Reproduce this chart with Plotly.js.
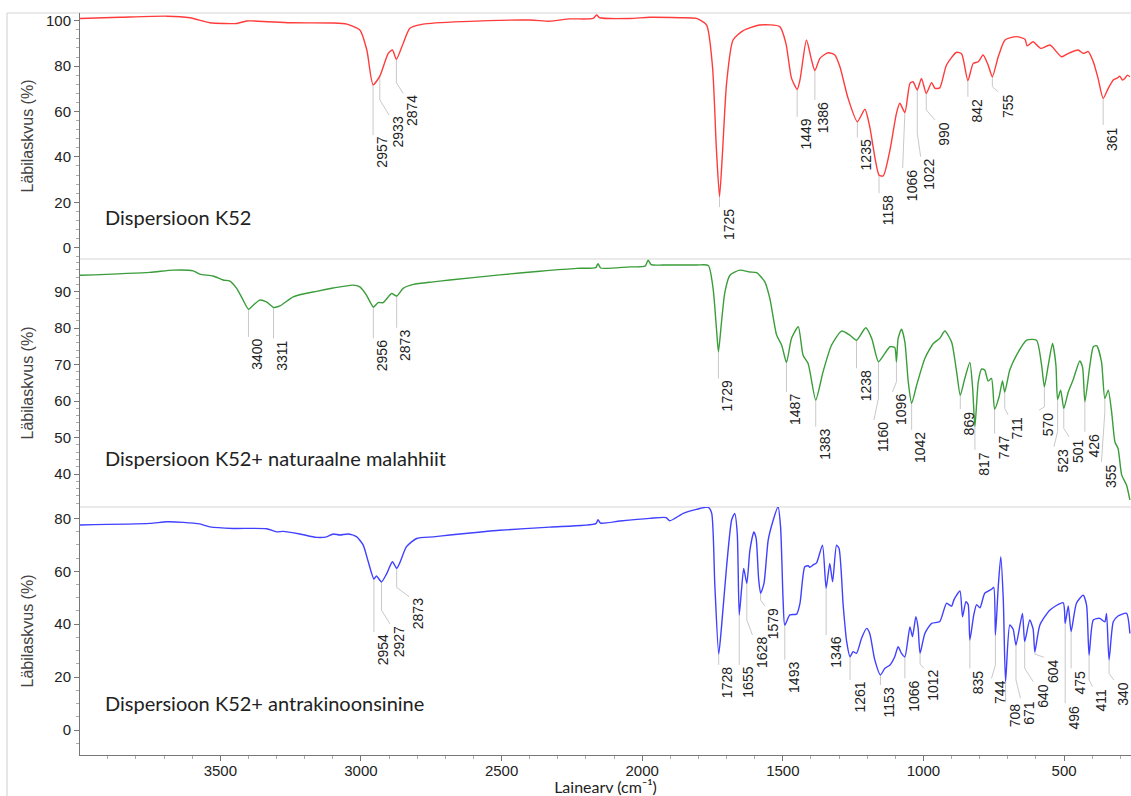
<!DOCTYPE html>
<html><head><meta charset="utf-8">
<script src="https://cdn.plot.ly/plotly-3.0.1.min.js"></script>
<style>html,body{margin:0;padding:0;background:#fff}#chart{width:1131px;height:796px}</style>
</head><body><div id="chart"></div>
<script>
// ---------- DATA ----------
const panelNames = ['Dispersioon K52', 'Dispersioon K52+ naturaalne malahhiit', 'Dispersioon K52+ antrakinoonsinine'];
const xTitle = 'Lainearv (cm\u207B\u00B9)';
const yTitle = 'Läbilaskvus (%)';

const wnTop = [4000,3857,3690,3608,3537,3441,3406,3253,3100,3050,
 3004,2979,2957,2933,2903,2888,2874,2850,2826,2779,
 2638,2399,2328,2257,2175,2162,2151,2044,1973,1866,
 1807,1771,1750,1736,1725,1714,1700,1677,1641,1582,
 1511,1489,1469,1449,1439,1416,1398,1386,1368,1339,
 1315,1297,1268,1235,1208,1191,1158,1143,1119,1096,
 1084,1066,1048,1037,1022,1007,990,971,959,942,
 918,882,864,842,823,805,788,770,755,734,
 710,669,639,631,610,583,550,509,485,450,
 432,414,396,379,361,343,325,310,302,292,
 284,275,266];
const tTop = [101.0,101.5,102.0,101.3,99.1,98.8,99.9,99.1,99.0,98.5,
 95.9,87.0,71.8,75.6,85.6,87.1,83.0,90.0,96.7,98.5,
 99.6,100.3,99.8,100.8,101.0,102.5,101.3,101.0,101.5,101.3,
 101.0,98.1,79.7,43.0,22.5,43.0,72.4,91.5,95.6,98.1,
 97.4,90.0,74.6,69.8,73.9,91.5,82.7,78.0,83.4,85.9,
 84.9,79.7,65.8,55.5,61.0,53.3,32.0,31.6,43.0,59.2,
 63.6,59.5,72.4,73.1,69.5,74.6,68.0,72.7,70.2,70.4,
 80.5,86.1,85.3,73.6,81.2,81.9,84.9,80.5,75.3,84.1,
 91.5,93.0,91.8,88.9,90.7,87.8,89.3,84.1,85.6,87.1,
 85.6,86.4,81.9,74.6,65.8,70.2,73.9,74.8,75.6,73.8,
 74.5,76.0,75.3];

const wnMid = [4000,3751,3668,3597,3573,3526,3490,3466,3442,3419,
 3400,3383,3360,3336,3311,3288,3241,3158,3099,3028,
 3004,2980,2956,2939,2921,2891,2873,2850,2814,2743,
 2684,2506,2364,2233,2165,2157,2148,2127,2044,1990,
 1979,1968,1927,1807,1765,1748,1736,1729,1718,1706,
 1688,1653,1617,1593,1564,1546,1522,1504,1487,1469,
 1445,1428,1410,1383,1357,1327,1291,1262,1238,1205,
 1184,1160,1137,1119,1102,1096,1090,1078,1066,1054,
 1042,1024,995,965,942,924,900,882,869,853,
 835,825,817,805,793,782,770,758,747,731,
 719,711,693,669,633,598,580,570,556,541,
 529,523,512,501,485,468,444,434,426,408,
 396,384,367,355,343,331,319,308,295,278,
 266];
const tMid = [94.5,95.3,95.9,95.7,94.8,94.3,93.2,92.9,90.9,87.7,
 85.2,86.3,87.7,87.2,85.7,86.1,88.6,90.1,91.0,91.8,
 91.3,89.0,85.8,87.0,87.0,89.5,88.8,90.9,92.0,92.7,
 93.2,94.6,95.6,96.4,96.6,97.7,96.5,96.4,96.8,97.0,
 98.6,97.4,97.3,97.3,97.2,90.9,79.9,73.5,81.7,89.9,
 94.5,95.9,95.4,95.2,92.7,88.1,78.1,75.3,70.6,77.2,
 80.4,72.6,70.3,60.3,68.0,75.3,79.2,78.1,76.7,80.1,
 77.2,70.8,73.1,74.9,74.7,70.8,77.2,79.7,76.2,65.3,
 59.4,64.4,71.7,75.8,77.2,79.2,76.2,68.0,61.6,66.2,
 70.6,63.5,53.0,65.3,68.8,68.5,65.5,66.2,57.8,61.2,
 65.5,62.5,68.5,72.6,76.7,76.7,69.9,63.9,69.9,75.8,
 69.9,60.5,63.0,58.0,62.5,65.8,71.0,69.2,59.8,69.9,
 74.9,75.2,70.8,60.7,63.0,57.1,48.8,47.0,39.7,37.0,
 32.9];

const wnBot = [4000,3751,3691,3632,3573,3537,3454,3336,3300,3277,
 3217,3158,3122,3099,3075,3046,3016,2992,2974,2954,
 2945,2927,2909,2888,2873,2862,2838,2802,2743,2684,
 2506,2328,2165,2157,2148,2079,1973,1915,1902,1854,
 1807,1765,1753,1742,1728,1718,1700,1682,1671,1662,
 1655,1647,1639,1628,1617,1603,1595,1586,1579,1567,
 1552,1534,1517,1508,1499,1493,1475,1451,1439,1422,
 1410,1404,1392,1380,1359,1346,1333,1323,1309,1300,
 1285,1273,1261,1250,1238,1220,1202,1191,1173,1153,
 1137,1119,1102,1090,1078,1066,1048,1039,1027,1019,
 1012,995,971,942,918,900,892,882,870,861,
 849,841,835,821,811,799,782,758,750,744,
 734,725,716,708,693,681,671,648,640,622,
 610,604,586,550,503,496,485,475,456,432,
 420,411,396,373,355,349,340,325,308,278,
 266];
const tBot = [77.5,78.1,78.7,78.5,77.9,76.8,76.2,76.1,74.9,75.1,
 74.1,72.8,73.0,74.1,73.7,74.1,73.1,69.9,63.6,57.1,
 58.2,56.0,59.0,63.6,61.1,63.2,69.3,72.4,73.0,73.7,
 75.5,76.7,78.0,79.5,78.2,79.0,80.0,80.3,79.1,81.9,
 83.4,84.2,82.0,55.4,28.7,39.0,61.7,79.4,81.9,74.3,
 43.5,52.9,61.1,55.4,68.0,74.9,72.5,57.0,51.7,55.4,
 71.8,79.4,84.4,76.8,49.1,39.7,43.5,43.8,47.9,61.7,
 62.1,61.5,62.4,63.2,69.9,53.6,63.0,56.0,69.9,68.6,
 46.6,33.4,27.7,29.6,29.0,34.7,38.4,36.5,26.5,20.8,
 23.3,24.6,27.7,31.5,29.0,27.7,39.0,35.3,42.8,38.6,
 29.0,36.5,40.3,41.0,47.9,46.8,49.1,51.0,52.6,42.8,
 48.5,47.4,34.0,43.5,47.4,46.2,51.7,53.2,53.9,35.9,
 54.2,65.5,49.1,18.3,39.7,38.1,32.1,44.1,33.4,41.6,
 38.1,29.6,39.7,45.4,48.1,40.3,46.9,37.2,47.9,51.0,
 47.2,28.3,41.6,42.2,40.9,44.1,26.5,40.9,43.1,44.1,
 36.5];

const peaksTop = [2957,2933,2874,1725,1449,1386,1235,1158,1066,1022,990,842,755,361];
const peaksMid = [3400,3311,2956,2873,1729,1487,1383,1238,1160,1096,1042,869,817,747,711,570,523,501,426,355];
const peaksBot = [2954,2927,2873,1728,1655,1628,1579,1493,1346,1261,1153,1066,1012,835,744,708,671,640,604,496,475,411,340];

// ---------- LABEL PLACEMENT (layout): [bend y, end x, end y] ----------
const leaderTop = {2957:[null,null,49.6],2933:[65.1,2900,58.5],2874:[72.6,2850,68.0],1725:[null,null,17.9],
 1449:[null,null,57.6],1386:[null,null,65.1],1235:[null,null,48.5],1158:[null,null,24.0],1066:[null,1074,35.1],
 1022:[50.5,1010,40.1],990:[60.7,959,56.3],842:[null,null,66.5],755:[70.9,734,68.7],361:[null,null,54.1]};
const leaderMid = {3400:[null,null,77.6],3311:[null,null,77.2],2956:[null,null,77.2],2873:[null,null,80.1],
 1729:[null,null,66.2],1487:[null,null,62.5],1383:[null,null,53.0],1238:[null,null,69.0],1160:[60.8,1176,54.8],
 1096:[65.3,1110,62.5],1042:[null,null,52.1],869:[null,null,57.8],817:[null,null,46.6],747:[null,null,51.1],
 711:[58.0,699,56.2],570:[58.4,589,57.5],523:[51.6,536,47.5],501:[52.5,482,50.2],426:[null,null,51.6],355:[57.0,367,43.4]};
const leaderBot = {2954:[null,null,37.1],2927:[45.3,2897,40.1],2873:[53.9,2829,50.4],1728:[null,null,24.6],
 1655:[null,null,24.6],1628:[41.6,1608,35.9],1579:[49.1,1564,46.9],1493:[null,null,26.6],1346:[null,null,35.9],
 1261:[null,null,18.9],1153:[null,null,17.0],1066:[null,null,19.5],1012:[24.9,998,23.3],835:[null,null,23.3],
 744:[24.6,758,19.5],708:[null,null,10.7],671:[18.9,655,12.0],640:[23.3,610,18.3],604:[28.7,572,27.5],
 496:[null,null,10.1],475:[null,null,23.3],411:[18.9,399,16.4],340:[21.3,323,18.9]};

// ---------- BUILD ----------
function curveAt(wn, t, v){
  for(let i=0;i<wn.length-1;i++){
    if(wn[i]===v) return t[i];
    if(wn[i]>v && wn[i+1]<v){const f=(wn[i]-v)/(wn[i]-wn[i+1]);return t[i]+f*(t[i+1]-t[i]);}
  }
  return t[t.length-1];
}
const shapes=[], annotations=[];
const labelFont={family:'Liberation Sans, Arial, sans-serif',size:14,color:'#222'};
function addLabels(peaks, geom, wn, t, yref){
  peaks.forEach(p=>{
    const g=geom[p]; const t0=curveAt(wn,t,p);
    const ex = g[1]==null ? p : g[1];
    let path='M'+p+','+t0;
    if(g[0]!=null) path+=' L'+p+','+g[0];
    path+=' L'+ex+','+g[2];
    shapes.push({type:'path',xref:'x',yref:yref,path:path,line:{color:'#c9c9c9',width:1},layer:'below'});
    annotations.push({x:ex,y:g[2],xref:'x',yref:yref,text:String(p),textangle:-90,xanchor:'center',yanchor:'top',
      xshift:9,yshift:-1,showarrow:false,font:labelFont,borderpad:0});
  });
}
addLabels(peaksTop, leaderTop, wnTop, tTop, 'y');
addLabels(peaksMid, leaderMid, wnMid, tMid, 'y2');
addLabels(peaksBot, leaderBot, wnBot, tBot, 'y3');

const nameFont={family:'Lato, Open Sans, sans-serif',size:20,color:'#222'};
[['y',13.5],['y2',44.4],['y3',10.2]].forEach((r,i)=>{
  annotations.push({xref:'paper',x:0.0219,xanchor:'left',yref:r[0],y:r[1],yanchor:'middle',text:panelNames[i],showarrow:false,font:nameFont});
});

const frameColor='#d6d6d6';
const fx=-73/1051;
shapes.push({type:'line',xref:'paper',yref:'paper',x0:fx,x1:1,y0:1,y1:1,line:{color:frameColor,width:1.2},layer:'below'});
shapes.push({type:'line',xref:'paper',yref:'paper',x0:fx,x1:fx,y0:1,y1:-0.08,line:{color:frameColor,width:1.2},layer:'below'});
shapes.push({type:'line',xref:'paper',yref:'paper',x0:0,x1:1,y0:0.66846,y1:0.66846,line:{color:frameColor,width:1.2},layer:'below'});
shapes.push({type:'line',xref:'paper',yref:'paper',x0:0,x1:1,y0:0.33423,y1:0.33423,line:{color:frameColor,width:1.2},layer:'below'});

const lineStyle=(c)=>({color:c,width:1.4,shape:'spline',smoothing:0.6});
const traces=[
  {x:wnTop,y:tTop,xaxis:'x',yaxis:'y',type:'scatter',mode:'lines',line:lineStyle('#ff3b3b'),hoverinfo:'skip'},
  {x:wnMid,y:tMid,xaxis:'x',yaxis:'y2',type:'scatter',mode:'lines',line:lineStyle('#3a9d3a'),hoverinfo:'skip'},
  {x:wnBot,y:tBot,xaxis:'x',yaxis:'y3',type:'scatter',mode:'lines',line:lineStyle('#4040ff'),hoverinfo:'skip'}
];

const tickFont={family:'Liberation Sans, Arial, sans-serif',size:15,color:'#222'};
const yTitleFont={family:'Liberation Sans, Arial, sans-serif',size:16,color:'#444'};
function yax(domain, range, dtick, minorDtick, standoff){
  return {domain:domain,range:range,anchor:'x',dtick:dtick,tick0:0,ticks:'outside',ticklen:5,tickcolor:'#777',
    showline:true,linecolor:'#777',linewidth:1,showgrid:false,zeroline:false,tickfont:tickFont,
    minor:{dtick:minorDtick,tick0:0,ticks:'outside',ticklen:3,tickcolor:'#aaa',showgrid:false},
    title:{text:yTitle,font:yTitleFont,standoff:standoff}};
}
const layout={
  width:1131,height:796,margin:{l:80,r:0,t:13,b:41},
  paper_bgcolor:'#fff',plot_bgcolor:'rgba(0,0,0,0)',showlegend:false,
  xaxis:{range:[3999,262],anchor:'y3',dtick:500,tick0:0,ticks:'outside',ticklen:5,tickcolor:'#777',
    showline:true,linecolor:'#777',linewidth:1,showgrid:false,zeroline:false,tickfont:tickFont,ticklabelstandoff:-3,
    minor:{dtick:100,tick0:0,ticks:'outside',ticklen:3,tickcolor:'#aaa',showgrid:false},
    title:{text:xTitle,font:{family:'Lato, Open Sans, sans-serif',size:16,color:'#222'},standoff:7}},
  yaxis:yax([0.66846,1],[-5,103.4],20,4,8),
  yaxis2:yax([0.33423,0.66846],[30.96,98.96],10,2,16),
  yaxis3:yax([0,0.33423],[-9.45,84.3],20,5,16),
  shapes:shapes,annotations:annotations
};
Plotly.newPlot('chart',traces,layout,{staticPlot:true,displayModeBar:false});
</script></body></html>
